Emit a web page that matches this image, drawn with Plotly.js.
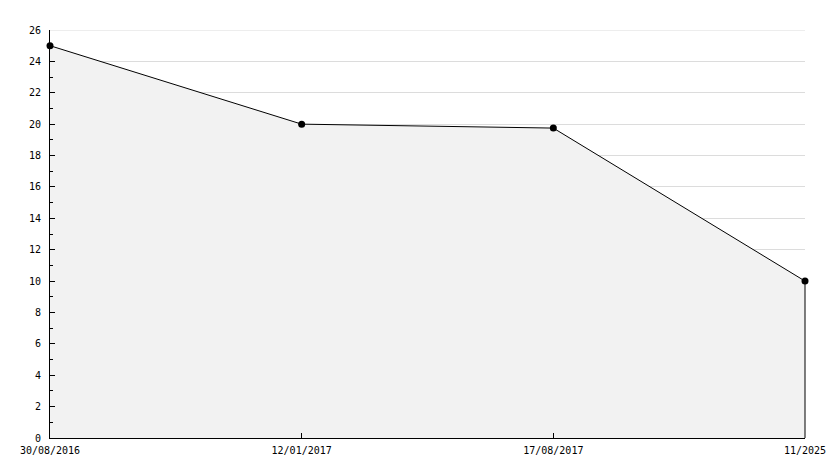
<!DOCTYPE html>
<html>
<head>
<meta charset="utf-8">
<script src="https://cdn.plot.ly/plotly-3.0.1.min.js"></script>
<style>html,body{margin:0;padding:0;background:#fff;}#chart{width:834px;height:468px;}</style>
</head>
<body>
<div id="chart"></div>
<script>
const categories = ["30/08/2016", "12/01/2017", "17/08/2017", "11/2025"];
const values = [25, 20, 19.75, 10];
const yTicks = [0, 2, 4, 6, 8, 10, 12, 14, 16, 18, 20, 22, 24, 26];

const last = categories.length - 1;
const yMax = yTicks[yTicks.length - 1];
const traces = [
  {
    x: categories, y: values, type: 'scatter', mode: 'lines+markers',
    fill: 'tozeroy', fillcolor: '#f2f2f2',
    line: {color: '#000', width: 1},
    marker: {color: '#000', size: 7, symbol: 'circle'},
    cliponaxis: false,
    hoverinfo: 'x+y'
  }
];

const font = {family: 'DejaVu Sans Mono, monospace', size: 10, color: '#000'};
const layout = {
  width: 834, height: 468,
  margin: {l: 50, r: 29, t: 30, b: 30},
  paper_bgcolor: '#fff', plot_bgcolor: '#fff',
  showlegend: false,
  font: font,
  shapes: [
    {
      type: 'line', xref: 'paper', yref: 'y', x0: 0, x1: 1, y0: yMax, y1: yMax,
      line: {color: '#dcdcdc', width: 1}, layer: 'below'
    },
    {
      type: 'line', xref: 'paper', yref: 'y', x0: 1, x1: 1, y0: 0, y1: values[last],
      line: {color: '#000', width: 1}, layer: 'above'
    }
  ],
  xaxis: {
    type: 'category', range: [0, last],
    showline: true, linecolor: '#000', linewidth: 1,
    ticks: 'inside', ticklen: 5, tickcolor: '#000',
    showgrid: false, zeroline: false,
    ticklabelstandoff: 3, tickfont: font
  },
  yaxis: {
    range: [0, yMax], tickvals: yTicks, ticktext: yTicks.map(String),
    showline: true, linecolor: '#000', linewidth: 1,
    ticks: 'inside', ticklen: 5, tickcolor: '#000',
    showgrid: true, gridcolor: '#dcdcdc', gridwidth: 1, zeroline: false,
    ticklabelstandoff: 6, tickfont: font,
    minor: {dtick: 1, tick0: 0, ticks: 'inside', ticklen: 3, tickcolor: '#000', showgrid: false}
  }
};
Plotly.newPlot('chart', traces, layout, {staticPlot: true, displayModeBar: false});
</script>
</body>
</html>
